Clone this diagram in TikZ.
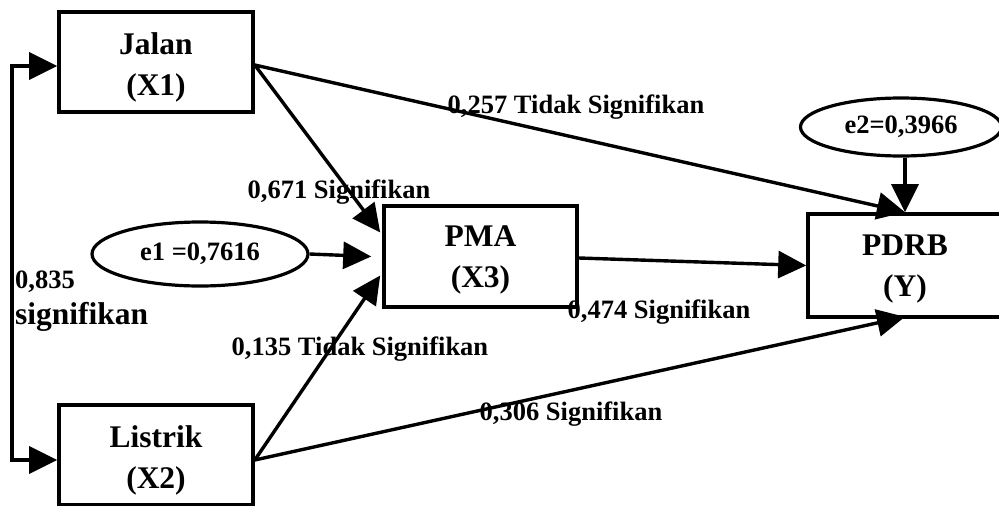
\documentclass[tikz,border=0pt]{standalone}
\usepackage{fontspec}
\setmainfont{Liberation Serif}
\usetikzlibrary{arrows.meta,shapes.geometric}
\begin{document}
\begin{tikzpicture}[x=1pt,y=-1pt,
  box/.style={draw,line width=3.6pt,minimum width=194pt,minimum height=100pt,inner sep=0pt},
  boxtxt/.style={align=center,inner sep=0pt,font=\fontsize{31.5}{41}\selectfont\bfseries},
  err/.style={draw,ellipse,line width=3.2pt,inner sep=0pt,font=\fontsize{26.5}{32}\selectfont\bfseries},
  lbl/.style={anchor=base,inner sep=0pt,font=\fontsize{26.5}{32}\selectfont\bfseries},
  conn/.style={line width=3.4pt,-{Triangle[length=28pt,width=27pt]}}]
\useasboundingbox (0,0) rectangle (999,506);
\begin{scope}
\clip (0,0) rectangle (999,506);
\node[box] (jalan) at (156,62) {};
\node[boxtxt] (tjalan) at (156,67) {Jalan\\(X1)};
\node[box] (listrik) at (156,455) {};
\node[boxtxt] (tlistrik) at (156,460) {Listrik\\(X2)};
\node[box,minimum width=193pt,minimum height=101pt] (pma) at (480.5,256.5) {};
\node[boxtxt] (tpma) at (480.5,260) {PMA\\(X3)};
\node[box,minimum width=240pt,minimum height=103pt] (pdrb) at (928,265.5) {};
\node[boxtxt] (tpdrb) at (905,269) {PDRB\\(Y)};
\node[err,minimum width=216pt,minimum height=64pt] (e1) at (200,254) {e1 =0,7616};
\node[err,minimum width=201pt,minimum height=58pt] (e2) at (901,127) {e2=0,3966};
\coordinate (bk) at (12,263);
\draw[line width=3.4pt,{Triangle[length=28pt,width=27pt]}-{Triangle[length=28pt,width=27pt]}]
  ([yshift=-4pt]jalan.west) -| (bk) |- ([yshift=-5pt]listrik.west);
\draw[conn] ([yshift=-3pt]jalan.east) -- ([shift={(-2pt,24pt)}]pma.west);
\draw[conn] (e1.east) -- ([xshift=-11pt]pma.west);
\draw[conn] ([yshift=-5pt]listrik.east) -- ([shift={(-2pt,-19pt)}]pma.west);
\draw[conn] ([yshift=-3pt]jalan.east) -- (tpdrb |- pdrb.north);
\draw[conn] ([yshift=-5pt]listrik.east) -- ([yshift=2pt]tpdrb |- pdrb.south);
\draw[conn] ([yshift=-1.5pt]pma.east) -- (pdrb.west);
\draw[conn] (e2.south -| tpdrb) -- (tpdrb |- pdrb.north);
\node[lbl] (l1) at (576,113) {0,257 Tidak Signifikan};
\node[lbl] (l2) at (339,198) {0,671 Signifikan};
\node[lbl] (l3) at (360,355) {0,135 Tidak Signifikan};
\node[lbl] (l4) at (659,318) {0,474 Signifikan};
\node[lbl] (l5) at (571,420) {0,306 Signifikan};
\node[lbl,anchor=base west] (l6) at (15,288) {0,835};
\node[lbl,anchor=base west,font=\fontsize{31.5}{38}\selectfont\bfseries] (l7) at (15,324) {signifikan};
\end{scope}
\end{tikzpicture}
\end{document}
